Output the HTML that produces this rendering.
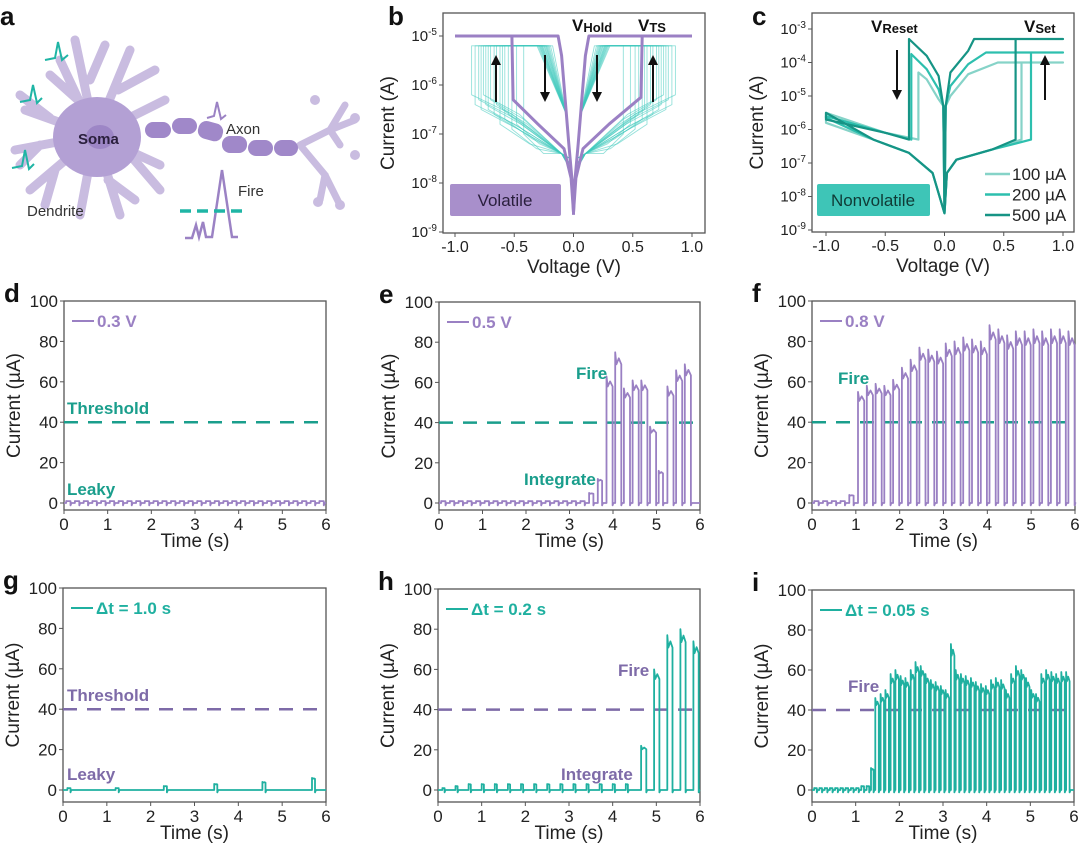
<!DOCTYPE html>
<html><head><meta charset="utf-8">
<style>
html,body{margin:0;padding:0;background:#fff;}
svg{display:block;font-family:"Liberation Sans",Arial,sans-serif;}
</style></head>
<body>
<svg id="fig" width="1080" height="846" viewBox="0 0 1080 846" xmlns="http://www.w3.org/2000/svg">
  <g>
    <g fill="none" stroke="#c9bce0" stroke-linecap="round">
      <path d="M95 135 L60 60 M78 100 L50 75 M95 135 L75 40 M90 80 L105 45 M95 135 L130 50 M118 90 L155 70 M95 135 L165 100 M95 135 L25 110 M50 118 L20 95 M95 135 L15 150 M40 145 L20 165 M95 135 L30 190 M55 170 L45 205 M95 135 L80 215 M95 135 L120 215 M108 180 L135 200 M95 135 L160 165 M130 155 L160 190" stroke-width="9"/>
      <path d="M300 145 L330 130 L345 105 M330 130 L340 145 M300 145 L325 175 L320 200 M325 175 L340 205 M330 130 L355 120" stroke-width="7"/>
    </g>
    <circle cx="315" cy="100" r="5" fill="#c9bce0"/><circle cx="355" cy="118" r="5" fill="#c9bce0"/><circle cx="318" cy="202" r="5" fill="#c9bce0"/><circle cx="340" cy="205" r="5" fill="#c9bce0"/><circle cx="355" cy="155" r="5" fill="#c9bce0"/>
    <ellipse cx="97" cy="137" rx="44" ry="40" fill="#b3a0d4"/>
    <ellipse cx="100" cy="137" rx="14" ry="12" fill="#9d86c6"/>
    <g fill="#a088c9">
      <rect x="145" y="122" width="26" height="16" rx="8"/><rect x="172" y="118" width="25" height="16" rx="8"/>
      <rect x="198" y="122" width="25" height="18" rx="8" transform="rotate(15 210 131)"/><rect x="222" y="136" width="25" height="17" rx="8"/>
      <rect x="248" y="140" width="25" height="16" rx="8"/><rect x="274" y="140" width="24" height="16" rx="8"/>
    </g>
    <g fill="none" stroke="#1fb5a5" stroke-width="2"><path d="M45 60 L55 58 L58 42 L62 60 L68 55"/><path d="M20 102 L30 100 L33 85 L37 103 L42 98"/><path d="M12 168 L22 166 L25 150 L29 169 L34 164"/></g>
    <path d="M207 118 L214 116 L217 102 L221 119 L226 115" fill="none" stroke="#9b82c4" stroke-width="2"/>
    <path d="M185 238 L192 238 L196 225 L199 237 L203 222 L206 237 L212 237 L222 170 L232 237 L238 237" fill="none" stroke="#9b82c4" stroke-width="2.5"/>
    <line x1="180" y1="211" x2="248" y2="211" stroke="#1fb5a5" stroke-width="3.5" stroke-dasharray="11,6"/>
    <text x="78" y="144" font-size="15" font-weight="bold" fill="#2a1f3d">Soma</text>
    <text x="226" y="134" font-size="15" fill="#333">Axon</text>
    <text x="238" y="196" font-size="15" fill="#333">Fire</text>
    <text x="27" y="216" font-size="15" fill="#333">Dendrite</text>
  </g>
  <g id="plots"></g>
</svg>
<script>
const bMainV = [-1, -0.52, -0.51, -0.3, -0.08, -0.02, 0, 0.02, 0.08, 0.3, 0.57, 0.58, 1];
const bMainUp = [-5, -5, -6.3, -6.8, -7.3, -7.9, -8.6, -7.9, -7.3, -6.8, -6.25, -5, -5];
const bRetV = [-1, -0.13, -0.1, -0.07, -0.04, -0.01, 0, 0.01, 0.04, 0.07, 0.1, 0.13, 1];
const bRetI = [-5, -5, -5.4, -6.3, -7.2, -8.0, -8.6, -8.0, -7.2, -6.3, -5.4, -5, -5];
const bVth = [0.42, 0.48, 0.52, 0.55, 0.58, 0.6, 0.62, 0.65, 0.67, 0.7, 0.72, 0.74, 0.76, 0.78, 0.8, 0.83, 0.86];
const bLeak = [-7.0, -6.8, -6.9, -6.6, -6.7, -6.5, -6.8, -6.4, -6.6, -6.3, -6.5, -6.4, -6.2, -6.5, -6.3, -6.4, -6.2];
const cLabels = ["100 µA", "200 µA", "500 µA"];
const cComp = [-4.0, -3.7, -3.3];
const cSet = [0.65, 0.73, 0.6];
const cReset = [-0.22, -0.28, -0.3];
const cResetPeak = [-4.3, -3.75, -3.3];
const dT = [0.05,0.25,0.45,0.65,0.85,1.05,1.25,1.45,1.65,1.85,2.05,2.25,2.45,2.65,2.85,3.05,3.25,3.45,3.65,3.85,4.05,4.25,4.45,4.65,4.85,5.05,5.25,5.45,5.65,5.85];
const dP = [1,1,1,1,1,1,1,1,1,1,1,1,1,1,1,1,1,1,1,1,1,1,1,1,1,1,1,1,1,1];
const eT = [0.05,0.25,0.45,0.65,0.85,1.05,1.25,1.45,1.65,1.85,2.05,2.25,2.45,2.65,2.85,3.05,3.25,3.45,3.65,3.85,4.05,4.25,4.45,4.65,4.85,5.05,5.25,5.45,5.65];
const eP = [1,1,1,1,1,1,1,1,1,1,1,1,1,1,1,1,1,5,12,63,75,57,61,61,38,16,58,66,69];
const fT = [0.05,0.25,0.45,0.65,0.85,1.05,1.25,1.45,1.65,1.85,2.05,2.25,2.45,2.65,2.85,3.05,3.25,3.45,3.65,3.85,4.05,4.25,4.45,4.65,4.85,5.05,5.25,5.45,5.65,5.85];
const fP = [1,1,1,1,4,55,58,59,58,61,67,71,77,76,75,79,80,82,81,80,88,86,83,85,85,86,85,86,86,85];
const gT = [0.1,1.2,2.3,3.45,4.55,5.68];
const gP = [1,1,2,3,4,6];
const hT = [0.1,0.4,0.7,1.0,1.3,1.6,1.9,2.2,2.5,2.8,3.1,3.4,3.7,4.0,4.3,4.65,4.95,5.25,5.55,5.85];
const hP = [1,2,3,3,3,3,3,3,3,3,3,3,3,3,3,22,60,77,80,74];
const iT = [0.05,0.17,0.29,0.41,0.53,0.65,0.77,0.89,1.01,1.13,1.25,1.35,1.45,1.57,1.68,1.8,1.91,2.03,2.14,2.26,2.37,2.49,2.6,2.72,2.83,2.95,3.06,3.18,3.29,3.41,3.52,3.64,3.75,3.87,3.98,4.1,4.21,4.33,4.44,4.56,4.67,4.79,4.9,5.02,5.13,5.25,5.36,5.48,5.59,5.71,5.82];
const iP = [1,1,1,1,1,1,1,1,1,2,2,11,46,48,50,58,60,57,56,60,64,62,58,55,54,52,50,73,60,58,57,56,54,53,52,55,56,55,50,58,62,60,56,50,48,58,60,59,58,59,59];
const timeTicks = [0,1,2,3,4,5,6];
const curTicks = [0,20,40,60,80,100];

const NS = "http://www.w3.org/2000/svg";
const root = document.getElementById("plots");
function mk(tag, attrs, parent) {
  const el = document.createElementNS(NS, tag);
  for (const k in attrs) el.setAttribute(k, attrs[k]);
  (parent || root).appendChild(el);
  return el;
}
function txt(x, y, s, size, fill, weight, anchor, parent) {
  const t = mk("text", {x: x, y: y, "font-size": size, fill: fill, "font-weight": weight || "normal", "text-anchor": anchor || "start"}, parent);
  t.textContent = s;
  return t;
}
function lin(a, b, c, d) { return v => c + (v - a) * (d - c) / (b - a); }
function frame(g, x0, y0, x1, y1) {
  const r = mk("rect", {x: x0, y: y0, width: x1 - x0, height: y1 - y0, fill: "none", stroke: "#555", "stroke-width": 1.3}, g);
  
  
}
function letter(s, x, y) {
  const t = txt(x, y, s, 26, "#111", "bold");
  
  
}

function ivPanel(name, box, vx0, vx1, decTop, yTop, perDec, decades) {
  const g = mk("g", {});
  
  
  const X = lin(-1, 1, vx0, vx1);
  const Y = l => yTop + (decTop - l) * perDec;
  frame(g, box[0], box[1], box[2], box[3]);
  [-1, -0.5, 0, 0.5, 1].forEach(v => {
    mk("line", {x1: X(v), x2: X(v), y1: box[3], y2: box[3] + 4, stroke: "#555"}, g);
    const t = txt(X(v), box[3] + 19, v.toFixed(1), 16, "#222", "normal", "middle", g);
    
    
  });
  decades.forEach(d => {
    mk("line", {x1: box[0] - 4, x2: box[0], y1: Y(d), y2: Y(d), stroke: "#555"}, g);
    const t = mk("text", {x: box[0] - 6, y: Y(d) + 5, "font-size": 15, fill: "#222", "text-anchor": "end"}, g);
    
    
    t.innerHTML = '10<tspan dy="-6" font-size="10">' + d + '</tspan>';
  });
  const xt = txt((box[0] + box[2]) / 2, box[3] + 40, "Voltage (V)", 19, "#222", "normal", "middle", g);
  
  
  const cy = (box[1] + box[3]) / 2;
  const yt = txt(0, 0, "Current (A)", 19, "#222", "normal", "middle", g);
  yt.setAttribute("transform", "translate(" + (box[0] - 49) + "," + cy + ") rotate(-90)");
  
  
  return {g, X, Y};
}
function poly(g, X, Y, vs, is, color, w, op) {
  const d = vs.map((v, k) => (k ? "L" : "M") + X(v).toFixed(1) + " " + Y(is[k]).toFixed(1)).join(" ");
  return mk("path", {d: d, fill: "none", stroke: color, "stroke-width": w, "stroke-opacity": op || 1, "stroke-linejoin": "round"}, g);
}
function arrow(g, x, y1, y2) {
  mk("line", {x1: x, x2: x, y1: y1, y2: y2 + (y2 > y1 ? -8 : 8), stroke: "#111", "stroke-width": 2}, g);
  const s = y2 > y1 ? -1 : 1;
  const a = mk("path", {d: "M" + (x - 5) + " " + (y2 + s * 10) + " L" + x + " " + y2 + " L" + (x + 5) + " " + (y2 + s * 10) + "Z", fill: "#111"}, g);
  
  
}
function vlabel(g, x, y, main, sub) {
  const t = mk("text", {x: x, y: y, "font-size": 17, "font-weight": "bold", fill: "#111"}, g);
  
  
  t.innerHTML = main + '<tspan font-size="13" dy="1">' + sub + '</tspan>';
}

letter("b", 388, 25);
const pb = ivPanel("panel-b-volatile-iv", [443, 13, 705, 233], 455, 692, -5, 36, 49, [-5, -6, -7, -8, -9]);
bVth.forEach((vt, k) => {
  [1, -1].forEach(sg => {
    const vs = [0, 0.03 * sg, 0.1 * sg, vt * 0.6 * sg, vt * sg, vt * sg, (vt * 0.3 + 0.05) * sg, 0.06 * sg, 0];
    const is = [-8.3, -7.7 + (k % 3) * 0.1, -7.4, bLeak[k] - 0.4, bLeak[k], -5.2, -5.2, -6.6, -8.2];
    const p = poly(pb.g, pb.X, pb.Y, vs, is, "#3cc9bb", 0.9, 0.55);
    
    
  });
});
let p1 = poly(pb.g, pb.X, pb.Y, bMainV, bMainUp, "#9b80c4", 3);


let p2 = poly(pb.g, pb.X, pb.Y, bRetV, bRetI, "#9b80c4", 3);


mk("line", {x1: pb.X(0), x2: pb.X(0), y1: pb.Y(-8.2), y2: pb.Y(-8.65), stroke: "#9b80c4", "stroke-width": 3}, pb.g);
arrow(pb.g, 496, 102, 55); arrow(pb.g, 545, 55, 102); arrow(pb.g, 597, 55, 102); arrow(pb.g, 653, 102, 55);
vlabel(pb.g, 572, 31, "V", "Hold"); vlabel(pb.g, 638, 31, "V", "TS");
let vb = mk("rect", {x: 450, y: 184, width: 111, height: 32, rx: 2, fill: "#a88fcb"}, pb.g);


txt(505, 206, "Volatile", 17, "#2a1f3d", "normal", "middle", pb.g);

letter("c", 752, 25);
const pc = ivPanel("panel-c-nonvolatile-iv", [812, 13, 1074, 232], 826, 1063, -3, 29, 33.5, [-3, -4, -5, -6, -7, -8, -9]);
const cCol = ["#86d3c8", "#2dbfae", "#169485"];
cComp.forEach((c, k) => {
  const vs = [0, 0.02, 0.1, 0.4, cSet[k], cSet[k], 1, 1, 0.45 - k * 0.1, 0.2, 0.05, 0.01, 0, -0.01, -0.05, -0.15, cReset[k], cReset[k], -0.5, -1, -1, -0.6, -0.3, -0.1, 0];
  const is = [-8.5, -7.3, -6.9, -6.6, -6.3, c, c, c, c, c - 0.35, c - 1.0, -5.3, -8.5, -5.3, c - 1.1, c - 0.5, cResetPeak[k], -6.3, -6.1, -5.5 - k * 0.1, -5.8 + k * 0.15, -6.3, -6.7, -7.3, -8.5];
  const p = poly(pc.g, pc.X, pc.Y, vs, is, cCol[k], 2.2);
  
  
  const ly = 174 + k * 20.5;
  const ll = mk("line", {x1: 985, x2: 1010, y1: ly, y2: ly, stroke: cCol[k], "stroke-width": 2.5}, pc.g);
  
  
  const lt = txt(1012, ly + 6, cLabels[k], 17, "#222", "normal", "start", pc.g);
  
  
});
arrow(pc.g, 897, 50, 100); arrow(pc.g, 1045, 100, 55);
vlabel(pc.g, 871, 32, "V", "Reset"); vlabel(pc.g, 1024, 32, "V", "Set");
let nb = mk("rect", {x: 817, y: 184, width: 113, height: 32, rx: 2, fill: "#3ec5b7"}, pc.g);


txt(873, 206, "Nonvolatile", 17, "#0f3b36", "normal", "middle", pc.g);

function timePanel(name, ltr, x0, x1, yTop, y0, yBot, T, P, w, color, dashColor, legend, notes) {
  const g = mk("g", {});
  
  
  letter(ltr, x0 - 60, yTop + 1);
  const X = lin(0, 6, x0, x1);
  const Y = lin(0, 100, y0, yTop);
  frame(g, x0, yTop, x1, yBot);
  timeTicks.forEach(t => {
    mk("line", {x1: X(t), x2: X(t), y1: yBot, y2: yBot + 4, stroke: "#555"}, g);
    const l = txt(X(t), yBot + 20, String(t), 17, "#222", "normal", "middle", g);
    
    
  });
  curTicks.forEach(c => {
    mk("line", {x1: x0 - 4, x2: x0, y1: Y(c), y2: Y(c), stroke: "#555"}, g);
    const l = txt(x0 - 6, Y(c) + 6, String(c), 17, "#222", "normal", "end", g);
    
    
  });
  const xt = txt((x0 + x1) / 2, yBot + 37, "Time (s)", 19, "#222", "normal", "middle", g);
  
  
  const yt = txt(0, 0, "Current (µA)", 19, "#222", "normal", "middle", g);
  yt.setAttribute("transform", "translate(" + (x0 - 44) + "," + ((yTop + yBot) / 2) + ") rotate(-90)");
  
  
  const th = mk("line", {x1: x0, x2: x1, y1: Y(40), y2: Y(40), stroke: dashColor, "stroke-width": 2.5, "stroke-dasharray": "14,10"}, g);
  
  
  let d = "M" + X(0) + " " + Y(0);
  T.forEach((t, k) => {
    const p = P[k];
    const ww = p > 20 ? w[1] : w[0];
    d += " L" + X(t).toFixed(1) + " " + Y(0).toFixed(1) + " L" + X(t).toFixed(1) + " " + Y(p).toFixed(1);
    d += " L" + X(t + ww * 0.2).toFixed(1) + " " + Y(p * 0.92).toFixed(1) + " L" + X(t + ww * 0.6).toFixed(1) + " " + Y(p * 0.96).toFixed(1);
    d += " L" + X(t + ww).toFixed(1) + " " + Y(p * 0.92).toFixed(1) + " L" + X(t + ww).toFixed(1) + " " + Y(-1.2).toFixed(1) + " L" + X(t + ww + 0.02).toFixed(1) + " " + Y(0).toFixed(1);
  });
  d += " L" + X(6) + " " + Y(0);
  const s = mk("path", {d: d, fill: "none", stroke: color, "stroke-width": 1.8, "stroke-linejoin": "round"}, g);
  
  
  const lg = mk("line", {x1: x0 + 8, x2: x0 + 30, y1: yTop + 20, y2: yTop + 20, stroke: color, "stroke-width": 2}, g);
  
  
  const lt = txt(x0 + 33, yTop + 26, legend, 17, color, "bold", "start", g);
  
  
  notes.forEach(n => {
    const a = txt(n[0], n[1], n[2], 17, dashColor, "bold", "start", g);
    
    
  });
}
const PU = "#9a80c3", TE = "#1fb0a0", TD = "#1a9e8c", PD = "#7e6ba8";
timePanel("panel-d-0.3v", "d", 64, 326, 301, 503, 510, dT, dP, [0.1, 0.14], PU, TD, "0.3 V", [[67, 414, "Threshold"], [67, 495, "Leaky"]]);
timePanel("panel-e-0.5v", "e", 439, 700, 302, 503, 510, eT, eP, [0.1, 0.14], PU, TD, "0.5 V", [[576, 379, "Fire"], [524, 485, "Integrate"]]);
timePanel("panel-f-0.8v", "f", 812, 1075, 301, 503, 510, fT, fP, [0.1, 0.14], PU, TD, "0.8 V", [[838, 384, "Fire"]]);
timePanel("panel-g-dt-1.0s", "g", 63, 326, 588, 790, 802, gT, gP, [0.07, 0.1], TE, PD, "Δt = 1.0 s", [[67, 701, "Threshold"], [67, 780, "Leaky"]]);
timePanel("panel-h-dt-0.2s", "h", 438, 700, 589, 790, 802, hT, hP, [0.05, 0.12], TE, PD, "Δt = 0.2 s", [[561, 780, "Integrate"], [618, 676, "Fire"]]);
timePanel("panel-i-dt-0.05s", "i", 812, 1074, 590, 790, 802, iT, iP, [0.06, 0.08], TE, PD, "Δt = 0.05 s", [[848, 692, "Fire"]]);
letter("a", 0, 25);
</script>
</body></html>
